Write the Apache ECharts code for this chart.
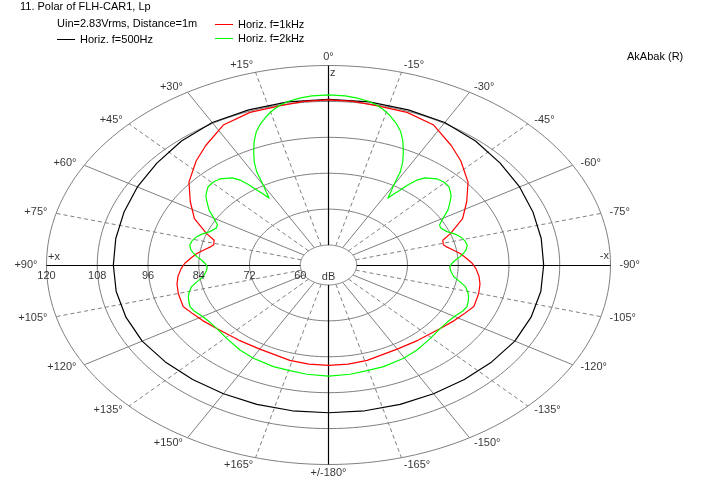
<!DOCTYPE html>
<html><head><meta charset="utf-8">
<script src="https://cdn.jsdelivr.net/npm/echarts@6/dist/echarts.min.js"></script>
<style>html,body{margin:0;padding:0;background:#fff}#c{width:723px;height:503px}</style>
</head><body><div id="c"></div>
<script>
// ---------- text ----------
const titleText = '11. Polar of FLH-CAR1, Lp';
const subtitleText = 'Uin=2.83Vrms, Distance=1m';
const brandText = 'AkAbak (R)';
const seriesNames = ['Horiz. f=500Hz', 'Horiz. f=1kHz', 'Horiz. f=2kHz'];
const seriesColors = ['#000000', '#ff0000', '#00ff00'];

// ---------- data (angle in degrees, + = left side; level in dB) ----------
const angles500 = [0, 10, 20, 30, 40, 50, 60, 70, 80, 90, 100, 110, 120, 130, 140, 150, 160, 170, 180];
const levels500 = [108.7, 108.7, 108.5, 108.3, 107.4, 106.3, 105.5, 104.8, 104.4, 104.2, 104.3, 104.3, 104.2, 103.7, 103.3, 103.0, 102.9, 102.8, 102.7];

const angles1k = [0, 6, 12, 20, 28, 36, 42, 50, 57, 64, 70, 73, 76, 78, 80, 83, 86, 89, 92, 96, 100, 105, 112, 117, 122, 129, 140, 150, 164, 172, 180];
const levels1k = [108.5, 108.3, 107.8, 107.6, 106.3, 102.7, 100.1, 96.4, 92.3, 88.6, 84.0, 81.6, 81.3, 82.0, 83.0, 84.7, 86.0, 87.3, 88.2, 89.1, 89.7, 90.1, 90.4, 89.3, 88.4, 87.2, 86.2, 85.8, 86.5, 86.8, 86.9];

const angles2k = [0, 4, 7, 10, 12, 14, 16, 19, 21, 23, 25, 27, 28.6, 30, 31, 32.1, 33, 34.1, 35, 36.4, 38, 41.8, 44.5, 47.4, 50, 51.8, 54, 57, 60, 63, 65, 68.3, 71, 73.1, 76, 78.5, 81, 83, 85, 86.8, 89, 91.1, 94, 97.5, 100, 102.6, 105, 107.7, 110, 113, 116, 119.5, 124, 128.7, 135.5, 143.6, 150.3, 159, 165.5, 172, 180];
const levels2k = [110.2, 110.0, 109.5, 108.8, 108.0, 106.9, 105.5, 103.0, 101.0, 98.3, 95.2, 92.0, 88.8, 84.2, 82.0, 79.7, 81.5, 83.6, 86.0, 88.6, 90.3, 91.9, 92.2, 92.0, 91.0, 90.2, 88.8, 87.0, 84.6, 82.8, 82.6, 83.5, 85.0, 85.9, 86.6, 86.8, 86.3, 85.5, 84.5, 83.4, 82.5, 82.0, 82.3, 83.2, 84.8, 86.5, 87.4, 88.1, 88.5, 88.9, 88.6, 87.8, 87.3, 87.2, 87.7, 88.6, 89.2, 89.7, 89.8, 90.2, 90.5];

// ---------- axes / ticks ----------
const ringLevels = [60, 72, 84, 96, 108, 120];
const radialTickLabels = ['120', '108', '96', '84', '72', '60'];
const radialTickValues = [120, 108, 96, 84, 72, 60];
const angleTicks = [0, 15, 30, 45, 60, 75, 90, 105, 120, 135, 150, 165, 180, -15, -30, -45, -60, -75, -90, -105, -120, -135, -150, -165];
const angleTickLabels = ['0°', '+15°', '+30°', '+45°', '+60°', '+75°', '+90°', '+105°', '+120°', '+135°', '+150°', '+165°', '+/-180°', '-15°', '-30°', '-45°', '-60°', '-75°', '-90°', '-105°', '-120°', '-135°', '-150°', '-165°'];

const DB_MIN = 60, DB_MAX = 120;
const DB_ORIGIN = DB_MIN - (DB_MAX - DB_MIN) / 9; // inner ring at 10% of radius
const R_MAX = DB_MAX - DB_ORIGIN;

function pt(deg, level) {
  const r = level - DB_ORIGIN, t = deg * Math.PI / 180;
  return [-r * Math.sin(t), r * Math.cos(t)];
}
function fullCurve(angles, levels) {
  const pts = [];
  for (let i = angles.length - 1; i >= 0; i--) pts.push(pt(angles[i], levels[i]));
  for (let i = 1; i < angles.length; i++) pts.push(pt(-angles[i], levels[i]));
  return pts;
}
function ring(level) {
  const pts = [];
  for (let a = 0; a <= 360; a += 2) pts.push(pt(a, level));
  return pts;
}

const FONT = 'Liberation Sans';
const txt = { fontFamily: FONT, fontSize: 11, color: '#000', fontWeight: 'normal' };

const spokesSolid = [], spokesDashed = [], spokesAxis = [];
angleTicks.forEach(a => {
  const seg = { coords: [pt(a, DB_MIN), pt(a, DB_MAX)] };
  if (a % 90 === 0) spokesAxis.push(seg);
  else if (a % 30 === 0) spokesSolid.push(seg);
  else spokesDashed.push(seg);
});

const angleLabelData = angleTicks.map((a, i) => {
  const t = a * Math.PI / 180, s = Math.sin(t), c = Math.cos(t);
  let align = 'center', dx = 0;
  if (Math.abs(s) > 0.1) { align = s > 0 ? 'right' : 'left'; dx = -s * 9; }
  const dy = -(5 * c + 3.5 * Math.sign(c) * Math.pow(c, 8));
  return {
    name: angleTickLabels[i], value: pt(a, DB_MAX),
    label: { align: align, verticalAlign: 'middle', offset: [dx, dy] }
  };
});
const radialLabelData = radialTickValues.map((v, i) => ({
  name: radialTickLabels[i], value: pt(90, v),
  label: { align: 'center', verticalAlign: 'middle', offset: [0, 11] }
}));
const axisNameData = [
  { name: 'dB', value: [0, 0], label: { align: 'center', verticalAlign: 'middle', offset: [0, 12] } },
  { name: 'z', value: pt(0, DB_MAX), label: { align: 'left', verticalAlign: 'middle', offset: [1.5, 7] } },
  { name: '+x', value: pt(90, DB_MAX), label: { align: 'left', verticalAlign: 'middle', offset: [1.5, -8] } },
  { name: '-x', value: pt(-90, DB_MAX), label: { align: 'right', verticalAlign: 'middle', offset: [-1.5, -9] } }
];

function labelSeries(data) {
  return {
    type: 'scatter', symbolSize: 1, silent: true, z: 10,
    itemStyle: { color: 'transparent' },
    label: Object.assign({ show: true, position: [0.5, 0.5], formatter: '{b}' }, txt),
    data: data
  };
}
function legendItem(i) {
  return { name: seriesNames[i], itemStyle: { color: seriesColors[i], borderWidth: 0 }, lineStyle: { color: seriesColors[i] } };
}

const chart = echarts.init(document.getElementById('c'), null, { renderer: 'canvas' });
chart.setOption({
  animation: false,
  backgroundColor: '#fff',
  title: [
    { text: titleText, left: 20, top: 1, padding: 0, textStyle: Object.assign({ lineHeight: 12 }, txt) },
    { text: subtitleText, left: 57, top: 18, padding: 0, textStyle: Object.assign({ lineHeight: 12 }, txt) },
    { text: brandText, left: 627, top: 51, padding: 0, textStyle: Object.assign({ lineHeight: 12 }, txt) }
  ],
  legend: [
    { data: [legendItem(0)], left: 57, top: 34, padding: 0, icon: 'rect', itemWidth: 18, itemHeight: 1, textStyle: txt, selectedMode: false },
    { data: [legendItem(1), legendItem(2)], orient: 'vertical', left: 215, top: 19, padding: 0, itemGap: 3, icon: 'rect', itemWidth: 18, itemHeight: 1, textStyle: txt, selectedMode: false }
  ],
  grid: { left: 46.5, top: 65.5, width: 564, height: 399, containLabel: false },
  xAxis: { type: 'value', min: -R_MAX, max: R_MAX, show: false },
  yAxis: { type: 'value', min: -R_MAX, max: R_MAX, show: false },
  series: [
    { type: 'lines', coordinateSystem: 'cartesian2d', polyline: true, silent: true, z: 1,
      lineStyle: { color: '#808080', width: 1, opacity: 1 }, data: ringLevels.map(l => ({ coords: ring(l) })) },
    { type: 'lines', coordinateSystem: 'cartesian2d', silent: true, z: 1,
      lineStyle: { color: '#808080', width: 1, opacity: 1 }, data: spokesSolid },
    { type: 'lines', coordinateSystem: 'cartesian2d', silent: true, z: 1,
      lineStyle: { color: '#808080', width: 1, opacity: 1, type: [4, 3] }, data: spokesDashed },
    { type: 'lines', coordinateSystem: 'cartesian2d', silent: true, z: 2,
      lineStyle: { color: '#000', width: 1.2, opacity: 1 }, data: spokesAxis },
    { name: seriesNames[0], type: 'line', showSymbol: false, z: 3, color: seriesColors[0],
      lineStyle: { width: 1.2 }, data: fullCurve(angles500, levels500) },
    { name: seriesNames[1], type: 'line', showSymbol: false, z: 4, color: seriesColors[1],
      lineStyle: { width: 1.2 }, data: fullCurve(angles1k, levels1k) },
    { name: seriesNames[2], type: 'line', showSymbol: false, z: 5, color: seriesColors[2],
      lineStyle: { width: 1.2 }, data: fullCurve(angles2k, levels2k) },
    labelSeries(angleLabelData),
    labelSeries(radialLabelData),
    labelSeries(axisNameData)
  ]
});
</script></body></html>
